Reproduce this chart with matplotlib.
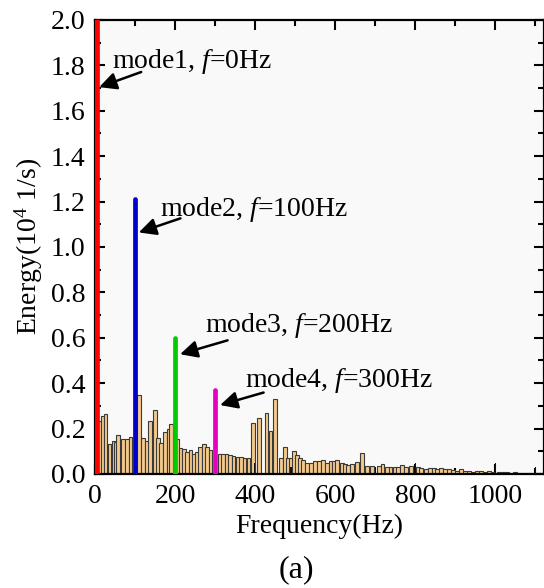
import matplotlib.pyplot as plt
from matplotlib.ticker import MultipleLocator

plt.rcParams['font.family'] = ['Liberation Serif', 'DejaVu Serif']
plt.rcParams['mathtext.fontset'] = 'custom'
plt.rcParams['mathtext.rm'] = 'Liberation Serif'
plt.rcParams['mathtext.it'] = 'Liberation Serif:italic'

# background spectrum (Hz, 10^4 1/s)
freqs = [10, 19, 27, 37, 46, 52, 58, 70, 80, 89,
         110, 120, 130, 137, 150, 157, 165, 175, 184, 190,
         205, 213, 222, 230, 238, 247, 255, 262, 272, 280, 288,
         312, 320, 328, 337, 346, 356, 365, 374, 383, 395, 410, 428, 438, 450,
         465, 475, 482, 490, 497, 505, 512, 520, 530, 540, 550, 560, 570, 580,
         588, 596, 605, 617, 625, 632, 642, 655, 667, 680, 692, 710, 718, 730,
         738, 750, 757, 767, 777, 790, 807, 815, 827, 837, 847, 855, 865, 875,
         885, 895, 905, 915, 925, 935, 945, 955, 965, 975, 985, 995, 1010,
         1020, 1030, 1040, 1050, 1060, 1070, 1080, 1090, 1105, 1115]
energy = [0.235, 0.255, 0.265, 0.13, 0.145, 0.14, 0.17, 0.155, 0.155, 0.163,
          0.348, 0.157, 0.147, 0.235, 0.282, 0.16, 0.135, 0.185, 0.2, 0.22,
          0.155, 0.115, 0.11, 0.095, 0.105, 0.09, 0.095, 0.117, 0.13, 0.12, 0.105,
          0.09, 0.09, 0.09, 0.085, 0.08, 0.075, 0.075, 0.07, 0.07, 0.225, 0.245, 0.27, 0.19, 0.33,
          0.07, 0.117, 0.07, 0.07, 0.1, 0.085, 0.07, 0.06, 0.05, 0.048, 0.055, 0.055, 0.06, 0.05,
          0.058, 0.055, 0.062, 0.05, 0.045, 0.04, 0.045, 0.054, 0.094, 0.036, 0.035, 0.036, 0.045, 0.032,
          0.03, 0.03, 0.032, 0.04, 0.032, 0.036, 0.03, 0.024, 0.023, 0.027, 0.027, 0.022, 0.025, 0.02,
          0.02, 0.018, 0.015, 0.02, 0.012, 0.015, 0.01, 0.015, 0.012, 0.01, 0.012, 0.008, 0.01,
          0.008, 0.008, 0.006, 0.007, 0.006, 0.006, 0.005, 0.005, 0.005, 0.004]

# small dark bars
dark_freqs = [0, 100, 200, 300, 398, 490, 700, 800, 1000, 1100]
dark_energy = [0.047, 0.02, 0.05, 0.02, 0.05, 0.03, 0.03, 0.05, 0.05, 0.03]

# mode peaks
mode_freqs = [0, 100, 200, 300]
mode_energy = [2.0, 1.21, 0.60, 0.37]
mode_colors = ['#ff0000', '#0000cc', '#00cc00', '#e600c0']
mode_labels = ['mode1, $f$=0Hz', 'mode2, $f$=100Hz', 'mode3, $f$=200Hz', 'mode4, $f$=300Hz']
label_pos = [(42, 1.815), (162, 1.163), (275, 0.656), (375, 0.41)]
arrow_tail = [(122, 1.775), (220, 1.13), (338, 0.592), (428, 0.362)]
arrow_tip = [(4, 1.70), (103, 1.06), (206, 0.524), (306, 0.30)]

fig = plt.figure(figsize=(5.44, 5.88), dpi=100)
ax = fig.add_axes([0.1746, 0.194, 0.8254, 0.772])
ax.set_facecolor('#f9f9f9')

ax.bar(freqs, energy, width=8.5, color='#f3c98e', edgecolor='#3a3a3a', linewidth=0.8, zorder=2)
ax.bar(dark_freqs, dark_energy, width=3, color='#111111', linewidth=0, zorder=3)

for f, e, c in zip(mode_freqs, mode_energy, mode_colors):
    lw = 7 if f == 0 else 3.4
    ax.plot([f, f], [0, e], color=c, lw=lw, solid_capstyle='round', zorder=4)

for lab, p, t0, t1 in zip(mode_labels, label_pos, arrow_tail, arrow_tip):
    ax.text(p[0], p[1], lab, fontsize=20, ha='left', va='center', zorder=6)
    ax.annotate('', xy=t1, xytext=t0,
                arrowprops=dict(arrowstyle='-|>', color='k', lw=1.8, mutation_scale=26),
                zorder=6)

ax.set_xlim(0, 1122)
ax.set_ylim(0, 2.0)
ax.xaxis.set_major_locator(MultipleLocator(200))
ax.xaxis.set_minor_locator(MultipleLocator(100))
ax.yaxis.set_major_locator(MultipleLocator(0.2))
ax.yaxis.set_minor_locator(MultipleLocator(0.1))
ax.yaxis.set_major_formatter(plt.FuncFormatter(lambda v, p: f'{v:.1f}'))
ax.tick_params(which='both', direction='in', top=True, right=True, width=1.5, labelsize=20, pad=7)
ax.tick_params(which='major', length=7)
ax.tick_params(which='minor', length=4)
for s in ax.spines.values():
    s.set_linewidth(1.6)

ax.set_ylabel('Energy(10$^4$ 1/s)', fontsize=20, labelpad=4)
ax.set_xlabel('Frequency(Hz)', fontsize=20, labelpad=4)
fig.text(296 / 544, 1 - 570 / 588, '(a)', fontsize=23, ha='center', va='center')

plt.savefig('out.png', dpi=100)
